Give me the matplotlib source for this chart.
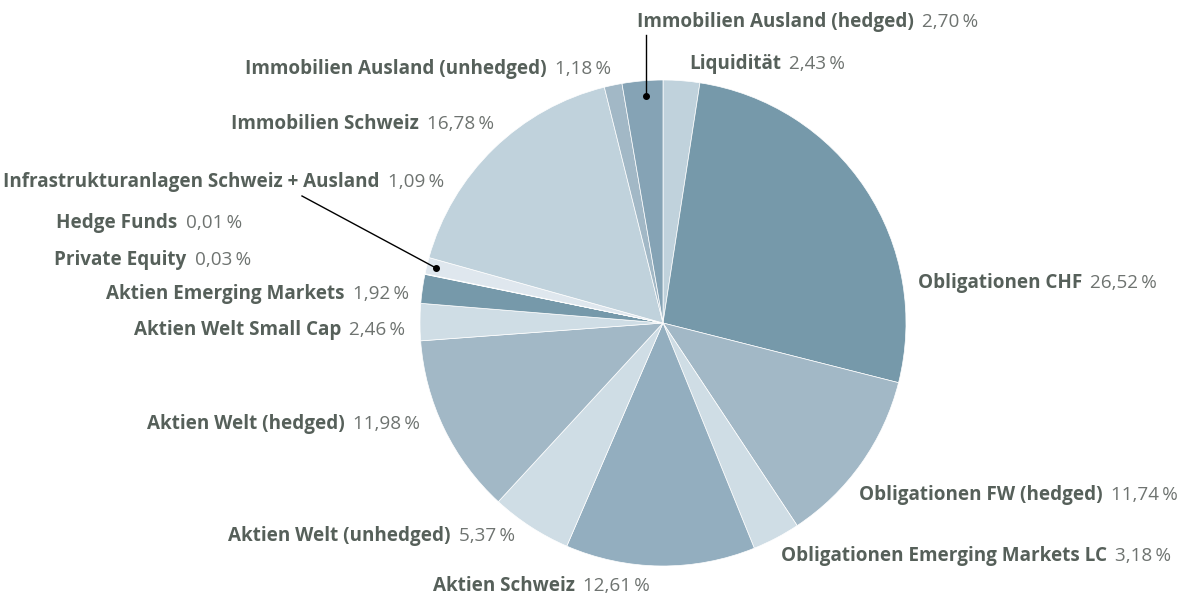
import matplotlib
matplotlib.use("Agg")
import matplotlib.pyplot as plt

# slices, clockwise from 12 o'clock
labels = ["Liquidität", "Obligationen CHF", "Obligationen FW (hedged)",
          "Obligationen Emerging Markets LC", "Aktien Schweiz",
          "Aktien Welt (unhedged)", "Aktien Welt (hedged)",
          "Aktien Welt Small Cap", "Aktien Emerging Markets",
          "Private Equity", "Hedge Funds",
          "Infrastrukturanlagen Schweiz + Ausland", "Immobilien Schweiz",
          "Immobilien Ausland (unhedged)", "Immobilien Ausland (hedged)"]
values = [2.43, 26.52, 11.74, 3.18, 12.61, 5.37, 11.98, 2.46, 1.92,
          0.03, 0.01, 1.09, 16.78, 1.18, 2.70]
colors = ["#c0d2dc", "#7699aa", "#a2b8c6", "#cfdde5", "#93aebf",
          "#cfdde5", "#a2b8c6", "#cfdde5", "#7699aa",
          "#a2b8c6", "#93aebf", "#dfe7ee", "#c0d2dc", "#a2b8c6", "#85a3b5"]

# label anchors in pixels (x, y from top, alignment)
label_pos = [(689, 62, "left"), (918, 281, "left"), (859, 493, "left"),
             (781, 554, "left"), (650, 584, "right"), (515, 534, "right"),
             (420, 422, "right"), (405, 328, "right"), (409, 292, "right"),
             (251, 258, "right"), (242, 221, "right"), (444, 180, "right"),
             (494, 122, "right"), (611, 67, "right"), (637, 20, "left")]

W, H = 1192, 597
fig = plt.figure(figsize=(W / 100, H / 100), dpi=100)
ax = fig.add_axes([0, 0, 1, 1])
ax.set_xlim(0, W)
ax.set_ylim(0, H)
ax.axis("off")

cx, cy, r = 663, H - 323, 243
ax.pie(values, colors=colors, startangle=90, counterclock=False,
       center=(cx, cy), radius=r, normalize=True,
       wedgeprops=dict(edgecolor="white", linewidth=0.5))
ax.set_xlim(0, W)
ax.set_ylim(0, H)
ax.set_aspect("equal")

bold_col = "#56605a"
val_col = "#6e7370"
fs = 13.6
fam = ["Open Sans", "DejaVu Sans"]

for name, v, (x, y, ha) in zip(labels, values, label_pos):
    vtxt = " \u2009" + f"{v:.2f}".replace(".", ",") + "\u2009%"
    yy = H - y - 2
    if ha == "left":
        t = ax.text(x, yy, name, ha="left", va="center", fontsize=fs,
                    fontweight="bold", color=bold_col, family=fam)
        ax.annotate(vtxt, xy=(1, 0.5), xycoords=t, ha="left", va="center",
                    fontsize=fs, color=val_col, family=fam)
    else:
        t = ax.text(x, yy, vtxt, ha="right", va="center", fontsize=fs,
                    color=val_col, family=fam)
        ax.annotate(name, xy=(0, 0.5), xycoords=t, ha="right", va="center",
                    fontsize=fs, fontweight="bold", color=bold_col, family=fam)

# leader lines
ax.plot([646, 646], [H - 35, H - 96], color="black", lw=1)
ax.plot([646], [H - 96], "o", color="black", ms=4)
ax.plot([302, 436], [H - 196, H - 268], color="black", lw=1)
ax.plot([436], [H - 268], "o", color="black", ms=4)

fig.savefig("out.png", dpi=100)
